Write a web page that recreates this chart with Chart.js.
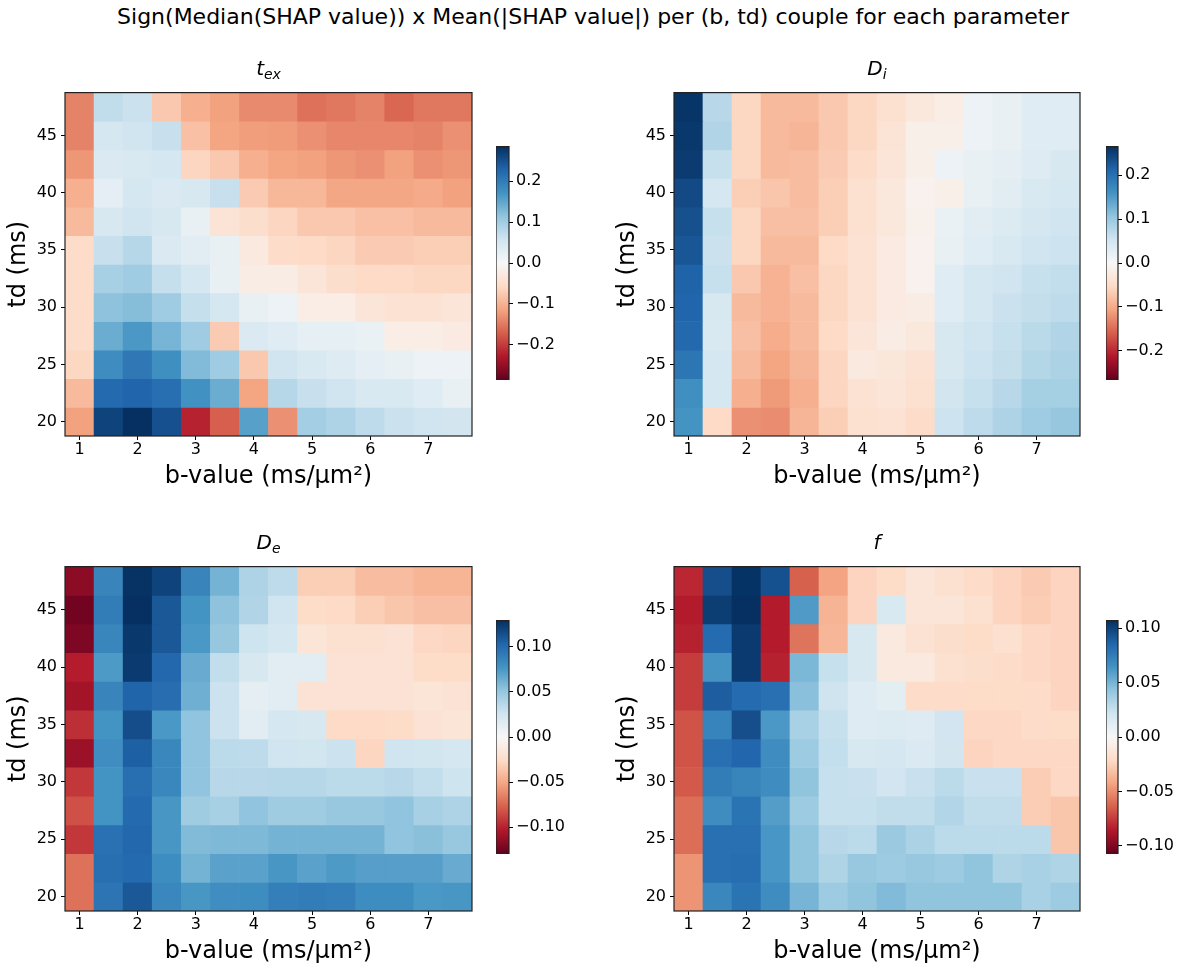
<!DOCTYPE html>
<html>
<head>
<meta charset="utf-8">
<script src="https://cdn.jsdelivr.net/npm/chart.js@4"></script>
<style>
  body { margin: 0; background: #fff; font-family: "DejaVu Sans", sans-serif; color: #000; }
  #page { position: relative; width: 1186px; height: 971px; overflow: hidden; }
  .abs { position: absolute; }
  .suptitle { left: 0; top: 4px; width: 1186px; text-align: center; font-size: 22px; line-height: 26px; }
  .ptitle { font-size: 20px; line-height: 24px; text-align: center; font-style: italic; }
  .ptitle span { font-size: 14px; position: relative; top: 4px; }
</style>
</head>
<body>
<div id="page">
  <div class="abs suptitle">Sign(Median(SHAP value)) x Mean(|SHAP value|) per (b, td) couple for each parameter</div>
</div>
<script>
// b-values (columns) and td values (rows, top to bottom)
const bValues = [1, 1.5, 2, 2.5, 3, 3.5, 4, 4.5, 5, 5.5, 6, 6.5, 7, 7.5];
const tdRows = [47.5, 45, 42.5, 40, 37.5, 35, 32.5, 30, 27.5, 25, 22.5, 20];
const bStep = 0.5;
const tdStep = 2.5;
const bTicks = [1, 2, 3, 4, 5, 6, 7];
const tdTicks = [20, 25, 30, 35, 40, 45];

const texValues = [
  [-0.142, 0.071, 0.062, -0.077, -0.102, -0.116, -0.136, -0.136, -0.156, -0.151, -0.142, -0.165, -0.151, -0.151],
  [-0.142, 0.051, 0.057, 0.065, -0.085, -0.114, -0.119, -0.122, -0.131, -0.139, -0.139, -0.139, -0.142, -0.131],
  [-0.125, 0.043, 0.045, 0.051, -0.062, -0.077, -0.102, -0.114, -0.116, -0.125, -0.131, -0.116, -0.131, -0.125],
  [-0.102, 0.028, 0.051, 0.043, 0.048, 0.065, -0.074, -0.094, -0.094, -0.111, -0.111, -0.111, -0.108, -0.116],
  [-0.091, 0.048, 0.057, 0.048, 0.023, -0.040, -0.051, -0.062, -0.077, -0.077, -0.085, -0.085, -0.091, -0.091],
  [-0.054, 0.065, 0.082, 0.043, 0.031, 0.023, -0.028, -0.054, -0.057, -0.062, -0.074, -0.074, -0.071, -0.071],
  [-0.054, 0.094, 0.102, 0.068, 0.051, 0.023, -0.023, -0.023, -0.037, -0.051, -0.057, -0.057, -0.060, -0.060],
  [-0.054, 0.116, 0.122, 0.102, 0.068, 0.051, 0.023, 0.017, -0.020, -0.020, -0.037, -0.043, -0.043, -0.037],
  [-0.054, 0.142, 0.165, 0.133, 0.102, -0.074, 0.043, 0.034, 0.026, 0.026, 0.020, -0.020, -0.020, -0.026],
  [-0.060, 0.179, 0.204, 0.176, 0.125, 0.102, -0.077, 0.057, 0.045, 0.037, 0.028, 0.023, 0.017, 0.017],
  [-0.091, 0.222, 0.227, 0.216, 0.173, 0.142, -0.114, 0.082, 0.065, 0.057, 0.045, 0.045, 0.034, 0.023],
  [-0.116, 0.264, 0.284, 0.250, -0.219, -0.170, 0.156, -0.131, 0.097, 0.088, 0.074, 0.062, 0.057, 0.054]
];

const diValues = [
  [0.260, 0.074, -0.056, -0.085, -0.085, -0.072, -0.056, -0.042, -0.029, -0.019, 0.016, 0.021, 0.032, 0.032],
  [0.257, 0.080, -0.056, -0.085, -0.090, -0.072, -0.056, -0.037, -0.016, -0.016, 0.016, 0.021, 0.032, 0.032],
  [0.254, 0.061, -0.056, -0.085, -0.082, -0.069, -0.050, -0.034, -0.016, 0.016, 0.021, 0.027, 0.034, 0.045],
  [0.239, 0.048, -0.066, -0.074, -0.082, -0.066, -0.042, -0.029, -0.011, -0.016, 0.021, 0.029, 0.042, 0.048],
  [0.233, 0.061, -0.056, -0.080, -0.080, -0.066, -0.042, -0.029, -0.013, 0.019, 0.029, 0.037, 0.048, 0.053],
  [0.228, 0.058, -0.056, -0.085, -0.085, -0.053, -0.040, -0.024, -0.011, 0.021, 0.032, 0.042, 0.053, 0.056],
  [0.215, 0.061, -0.072, -0.093, -0.080, -0.056, -0.040, -0.024, -0.011, 0.032, 0.048, 0.053, 0.061, 0.066],
  [0.212, 0.045, -0.085, -0.093, -0.085, -0.056, -0.040, -0.024, -0.021, 0.032, 0.048, 0.058, 0.064, 0.069],
  [0.209, 0.042, -0.080, -0.098, -0.085, -0.053, -0.034, -0.021, -0.029, 0.045, 0.053, 0.061, 0.072, 0.080],
  [0.193, 0.048, -0.085, -0.106, -0.090, -0.058, -0.027, -0.032, -0.040, 0.045, 0.056, 0.064, 0.077, 0.085],
  [0.164, 0.048, -0.095, -0.114, -0.095, -0.058, -0.040, -0.034, -0.042, 0.050, 0.061, 0.074, 0.090, 0.090],
  [0.159, -0.053, -0.122, -0.125, -0.090, -0.066, -0.042, -0.040, -0.050, 0.056, 0.069, 0.082, 0.095, 0.103]
];

const deValues = [
  [-0.116, 0.086, 0.128, 0.120, 0.086, 0.061, 0.040, 0.034, -0.032, -0.032, -0.040, -0.040, -0.044, -0.044],
  [-0.125, 0.090, 0.129, 0.110, 0.077, 0.053, 0.039, 0.026, -0.025, -0.026, -0.032, -0.036, -0.039, -0.039],
  [-0.121, 0.085, 0.125, 0.110, 0.075, 0.050, 0.027, 0.023, -0.017, -0.021, -0.021, -0.019, -0.027, -0.028],
  [-0.102, 0.074, 0.124, 0.102, 0.065, 0.032, 0.022, 0.015, 0.015, -0.019, -0.019, -0.019, -0.025, -0.025],
  [-0.108, 0.086, 0.104, 0.099, 0.063, 0.028, 0.013, 0.015, -0.019, -0.019, -0.019, -0.019, -0.017, -0.019],
  [-0.095, 0.077, 0.115, 0.075, 0.052, 0.028, 0.015, 0.023, 0.022, -0.026, -0.026, -0.025, -0.019, -0.017],
  [-0.111, 0.080, 0.106, 0.084, 0.052, 0.035, 0.034, 0.026, 0.025, 0.028, -0.028, 0.026, 0.025, 0.023],
  [-0.092, 0.077, 0.098, 0.084, 0.052, 0.036, 0.036, 0.037, 0.037, 0.035, 0.035, 0.036, 0.032, 0.027],
  [-0.083, 0.077, 0.101, 0.076, 0.046, 0.043, 0.052, 0.046, 0.046, 0.049, 0.049, 0.052, 0.043, 0.040],
  [-0.092, 0.097, 0.102, 0.076, 0.057, 0.058, 0.058, 0.061, 0.061, 0.061, 0.061, 0.052, 0.054, 0.049],
  [-0.071, 0.098, 0.101, 0.081, 0.061, 0.070, 0.070, 0.076, 0.070, 0.074, 0.071, 0.071, 0.071, 0.065],
  [-0.071, 0.095, 0.110, 0.084, 0.076, 0.080, 0.081, 0.089, 0.090, 0.089, 0.081, 0.081, 0.075, 0.076]
];

const fValues = [
  [-0.081, 0.095, 0.106, 0.094, -0.064, -0.043, -0.024, -0.021, -0.014, -0.017, -0.020, -0.024, -0.028, -0.024],
  [-0.085, 0.102, 0.107, -0.085, 0.061, -0.037, -0.024, 0.017, -0.014, -0.014, -0.017, -0.024, -0.027, -0.024],
  [-0.083, 0.083, 0.103, -0.085, -0.058, -0.036, 0.018, -0.011, -0.016, -0.019, -0.021, -0.017, -0.022, -0.024],
  [-0.075, 0.064, 0.103, -0.083, 0.049, 0.025, 0.018, -0.011, -0.011, -0.017, -0.019, -0.020, -0.022, -0.024],
  [-0.075, 0.089, 0.083, 0.081, 0.045, 0.022, 0.014, 0.011, -0.020, -0.020, -0.021, -0.021, -0.020, -0.024],
  [-0.068, 0.072, 0.095, 0.062, 0.035, 0.025, 0.014, 0.015, 0.014, 0.021, -0.022, -0.022, -0.020, -0.021],
  [-0.068, 0.081, 0.085, 0.067, 0.039, 0.026, 0.018, 0.019, 0.016, 0.020, -0.024, -0.022, -0.022, -0.022],
  [-0.066, 0.075, 0.071, 0.067, 0.043, 0.025, 0.024, 0.021, 0.024, 0.029, 0.024, 0.024, -0.027, -0.022],
  [-0.060, 0.067, 0.079, 0.060, 0.039, 0.025, 0.025, 0.027, 0.027, 0.032, 0.027, 0.027, -0.027, -0.030],
  [-0.060, 0.081, 0.081, 0.063, 0.043, 0.030, 0.029, 0.040, 0.034, 0.029, 0.029, 0.029, 0.029, -0.030],
  [-0.048, 0.081, 0.082, 0.063, 0.043, 0.033, 0.041, 0.039, 0.041, 0.039, 0.043, 0.033, 0.035, 0.033],
  [-0.048, 0.070, 0.079, 0.067, 0.050, 0.039, 0.043, 0.047, 0.043, 0.043, 0.043, 0.043, 0.035, 0.039]
];

// colour bar limits and tick steps
const vmaxes = [0.284, 0.265, 0.129, 0.107];
const cbSteps = [0.1, 0.1, 0.05, 0.05];
const cbDecimals = [1, 1, 2, 2];

// RdBu colormap, from -vmax (red) to +vmax (blue)
const rdbu = ['#67001f', '#b2182b', '#d6604d', '#f4a582', '#fddbc7', '#f7f7f7',
              '#d1e5f0', '#92c5de', '#4393c3', '#2166ac', '#053061'];

function hexRgb(h) {
    return [1, 3, 5].map(i => parseInt(h.substr(i, 2), 16));
}

function cmap(v, vmax) {
    let t = (v / vmax + 1) / 2;
    t = Math.max(0, Math.min(1, t));
    const p = t * 10;
    const i = Math.min(9, Math.floor(p));
    const f = p - i;
    const a = hexRgb(rdbu[i]);
    const b = hexRgb(rdbu[i + 1]);
    const c = a.map((x, k) => Math.round(x + (b[k] - x) * f));
    return 'rgb(' + c.join(',') + ')';
}

// black box round the plot area
const frame = {
    id: 'frame',
    afterDraw(chart) {
        const a = chart.chartArea;
        const ctx = chart.ctx;
        ctx.save();
        ctx.strokeStyle = '#222';
        ctx.lineWidth = 1.2;
        ctx.strokeRect(a.left, a.top, a.right - a.left, a.bottom - a.top);
        ctx.restore();
    }
};

const page = document.getElementById('page');

function addCanvas(left, top, w, h) {
    const div = document.createElement('div');
    div.className = 'abs';
    div.style.left = left + 'px';
    div.style.top = top + 'px';
    const cv = document.createElement('canvas');
    cv.width = w;
    cv.height = h;
    cv.style.width = w + 'px';
    cv.style.height = h + 'px';
    div.appendChild(cv);
    page.appendChild(div);
    return cv;
}

const tickFont = { family: 'DejaVu Sans', size: 16 };
const labelFont = { family: 'DejaVu Sans', size: 24 };

function heatmap(plot, values, vmax) {
    const [px, py, pw, ph] = plot;
    const yw = 65, xh = 55, padT = 10, padR = 10;
    const cv = addCanvas(px - yw, py - padT, yw + pw + padR, padT + ph + xh);

    const datasets = tdRows.map((td, r) => ({
        data: bValues.map(b => ({ x: b, y: [td - tdStep / 2, td + tdStep / 2] })),
        backgroundColor: values[r].map(v => cmap(v, vmax)),
        borderWidth: 0,
        barPercentage: 1,
        categoryPercentage: 1,
        grouped: false
    }));

    new Chart(cv, {
        type: 'bar',
        data: { datasets: datasets },
        options: {
            responsive: false,
            animation: false,
            events: [],
            layout: { padding: { top: padT, right: padR, left: 0, bottom: 0 } },
            plugins: { legend: { display: false }, tooltip: { enabled: false } },
            scales: {
                x: {
                    type: 'linear',
                    min: bValues[0] - bStep / 2,
                    max: bValues[bValues.length - 1] + bStep / 2,
                    offset: false,
                    afterBuildTicks: s => { s.ticks = bTicks.map(v => ({ value: v })); },
                    ticks: { font: tickFont, color: '#000', padding: 0, maxRotation: 0, autoSkip: false },
                    grid: { offset: false, drawOnChartArea: false, color: '#000', tickLength: 4 },
                    border: { display: false },
                    title: { display: true, text: 'b-value (ms/µm²)', font: labelFont, color: '#000', padding: { top: 0, bottom: 0 } },
                    afterFit: s => { s.height = xh; }
                },
                y: {
                    type: 'linear',
                    beginAtZero: false,
                    min: tdRows[tdRows.length - 1] - tdStep / 2,
                    max: tdRows[0] + tdStep / 2,
                    afterBuildTicks: s => { s.ticks = tdTicks.map(v => ({ value: v })); },
                    ticks: { font: tickFont, color: '#000', padding: 4, autoSkip: false },
                    grid: { offset: false, drawOnChartArea: false, color: '#000', tickLength: 4 },
                    border: { display: false },
                    title: { display: true, text: 'td (ms)', font: labelFont, color: '#000', padding: { top: 4, bottom: 0 } },
                    afterFit: s => { s.width = yw; }
                }
            }
        },
        plugins: [frame]
    });
}

function colorbar(bar, vmax, step, decimals) {
    const [bx, by, bw, bh] = bar;
    const yw = 62, pad = 10;
    const cv = addCanvas(bx, by - pad, bw + yw, bh + 2 * pad);

    new Chart(cv, {
        type: 'bar',
        data: {
            labels: [''],
            datasets: [{
                data: [[-vmax, vmax]],
                backgroundColor: function (context) {
                    const area = context.chart.chartArea;
                    if (!area) return '#f7f7f7';
                    const g = context.chart.ctx.createLinearGradient(0, area.bottom, 0, area.top);
                    rdbu.forEach((c, i) => g.addColorStop(i / 10, c));
                    return g;
                },
                borderWidth: 0,
                barPercentage: 1,
                categoryPercentage: 1
            }]
        },
        options: {
            responsive: false,
            animation: false,
            events: [],
            layout: { padding: { top: pad, bottom: pad, left: 0, right: 0 } },
            plugins: { legend: { display: false }, tooltip: { enabled: false } },
            scales: {
                x: { display: false },
                y: {
                    position: 'right',
                    beginAtZero: false,
                    min: -vmax,
                    max: vmax,
                    ticks: {
                        stepSize: step,
                        includeBounds: false,
                        font: tickFont,
                        color: '#000',
                        padding: 3,
                        callback: v => (v < -1e-9 ? '\u2212' : '') + Math.abs(v).toFixed(decimals)
                    },
                    grid: { drawOnChartArea: false, color: '#000', tickLength: 4 },
                    border: { display: false },
                    afterFit: s => { s.width = yw; }
                }
            }
        },
        plugins: [frame]
    });
}

function panelTitle(plot, main, sub) {
    const [px, py, pw] = plot;
    const div = document.createElement('div');
    div.className = 'abs ptitle';
    div.style.left = px + 'px';
    div.style.width = pw + 'px';
    div.style.top = (py - 33) + 'px';
    div.innerHTML = main + '<span>' + sub + '</span>';
    page.appendChild(div);
}

const panels = [
    { plot: [65, 89, 407, 347], bar: [496, 144, 13, 238], values: texValues, main: 't', sub: 'ex' },
    { plot: [674, 89, 406, 347], bar: [1106, 144, 12, 238], values: diValues, main: 'D', sub: 'i' },
    { plot: [65, 563, 407, 348], bar: [496, 618, 13, 238], values: deValues, main: 'D', sub: 'e' },
    { plot: [674, 563, 406, 348], bar: [1106, 618, 12, 238], values: fValues, main: 'f', sub: '' }
];

panels.forEach((p, i) => {
    heatmap(p.plot, p.values, vmaxes[i]);
    colorbar(p.bar, vmaxes[i], cbSteps[i], cbDecimals[i]);
    panelTitle(p.plot, p.main, p.sub);
});
</script>
</body>
</html>
